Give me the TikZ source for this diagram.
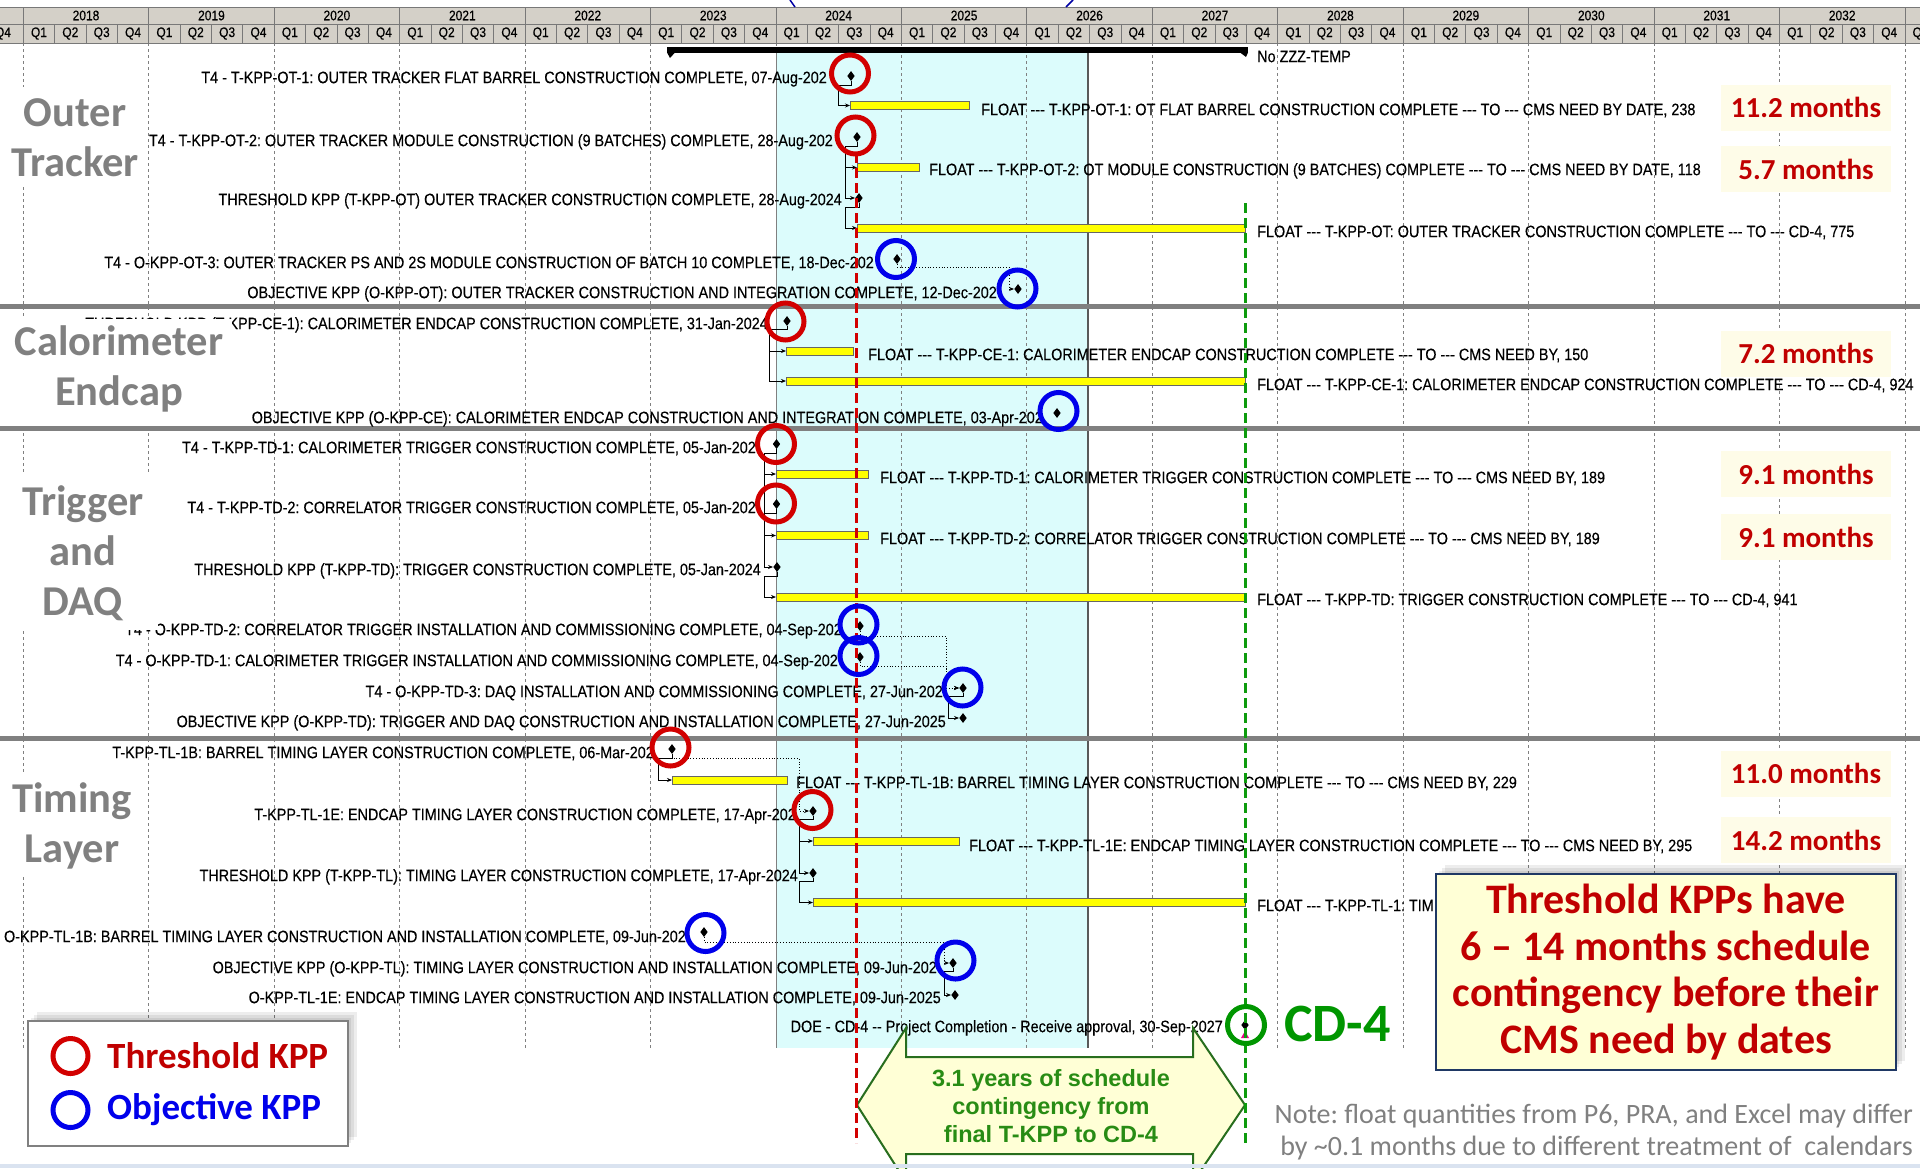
\documentclass[tikz,border=0pt]{standalone}
\usepackage{fontspec}
\usepackage{graphicx}
\newfontfamily\gfont{Liberation Sans}
\newfontfamily\rowfont{Liberation Sans}[FakeBold=0.3]
\newfontfamily\cfont{Carlito}
\usetikzlibrary{shapes.geometric,arrows.meta,calc}

% hyphen runs kept as separate hyphens
\newcommand\tdash{-\kern0pt-\kern0pt-}
\newcommand\wdash{-\kern0pt-}
% schedule labels are set slightly tall
\newcommand\R[1]{\scalebox{1}[1.15]{#1}}

\definecolor{hdr}{RGB}{212,208,200}
\definecolor{hdrline}{RGB}{120,120,120}
\definecolor{cyanbg}{RGB}{220,252,252}
\definecolor{barfill}{RGB}{255,255,0}
\definecolor{kred}{RGB}{210,0,0}
\definecolor{kblue}{RGB}{0,0,235}
\definecolor{kgreen}{RGB}{0,150,0}
\definecolor{mred}{RGB}{192,0,0}
\definecolor{mbg}{RGB}{254,252,232}
\definecolor{secgray}{RGB}{128,128,128}
\definecolor{callbg}{RGB}{255,255,214}
\definecolor{callborder}{RGB}{31,56,100}
\definecolor{arrowline}{RGB}{40,110,30}
\definecolor{arrowtext}{RGB}{40,140,20}
\definecolor{slideedge}{RGB}{218,227,240}

\tikzset{
  hdrtxt/.style={font=\rowfont\fontsize{12}{12}\selectfont, inner sep=0pt},
  row/.style={font=\rowfont\fontsize{14.4}{14.4}\selectfont, inner sep=0pt, text height=11.9pt, text depth=0pt, text=black, yshift=-1.2pt},
  lrow/.style={row, anchor=east},
  frow/.style={row, anchor=west},
  bar/.style={rectangle, fill=barfill, draw=gray!80!black, line width=1pt, minimum height=8pt, inner sep=0pt, anchor=west},
  ms/.style={diamond, fill=black, inner sep=0pt, minimum width=7.5pt, minimum height=10pt},
  ring/.style={circle, draw, line width=5pt, minimum size=37pt, inner sep=0pt},
  tring/.style={ring, draw=kred},
  oring/.style={ring, draw=kblue},
  rel/.style={draw=black, line width=0.8pt, -{Stealth[length=5pt,width=4pt]}},
  drel/.style={rel, dotted},
  mbox/.style={fill=mbg, minimum width=170pt, minimum height=46pt, inner sep=0pt,
    font=\cfont\bfseries\fontsize{29}{29}\selectfont, text=mred},
  sec/.style={font=\cfont\bfseries\fontsize{42.5}{50}\selectfont, text=secgray, align=center, inner sep=0pt},
  gridln/.style={draw=gray, line width=0.8pt, dash pattern=on 3pt off 3pt},
  shade/.style={fill=black, opacity=0.07},
}

\begin{document}
\frenchspacing
\begin{tikzpicture}[x=1pt,y=-1pt]
\useasboundingbox (0,0) rectangle (1920,1168);
\fill[white] (0,0) rectangle (1920,1168);

% highlighted period
\fill[cyanbg] (776,47) rectangle (1088,1047.5);
\draw[gray, line width=0.8pt] (776,47) -- (776,1047.5);
\draw[gray!70!black, line width=1.2pt] (1088,47) -- (1088,1047.5);

% yearly grid
\foreach \i in {0,...,15}{
  \pgfmathsetmacro\xx{23.3+125.44*\i}
  \draw[gridln] (\xx,43) -- (\xx,1047.5);
}

% time scale header
\fill[hdr] (0,7) rectangle (1920,43);
\draw[hdrline, line width=0.8pt] (0,7) -- (1920,7) (0,24) -- (1920,24) (0,43) -- (1920,43);
\foreach \i in {0,...,15}{
  \pgfmathsetmacro\xx{23.3+125.44*\i}
  \draw[hdrline, line width=0.8pt] (\xx,7) -- (\xx,43);
}
\foreach \k in {-1,...,60}{
  \pgfmathsetmacro\xx{23.3+31.36*\k}
  \draw[hdrline, line width=0.8pt] (\xx,24) -- (\xx,43);
}
\foreach \i in {0,...,14}{
  \pgfmathsetmacro\xx{23.3+125.44*\i+62.72}
  \pgfmathtruncatemacro\yr{2018+\i}
  \node[hdrtxt] (yr\i) at (\xx,15.5) {\R{\yr}};
}
\node[hdrtxt] (qqa) at (3,33.5) {\R{Q4}};
\foreach \k in {0,...,60}{
  \pgfmathsetmacro\xx{23.3+31.36*\k+15.68}
  \pgfmathtruncatemacro\q{mod(\k,4)+1}
  \node[hdrtxt] (qq\k) at (\xx,33.5) {\R{Q\q}};
}

% arrow ends reaching in from above
\draw[kblue!70!black, line width=1.5pt] (790,0) -- (795,7);
\draw[kblue!70!black, line width=1.5pt] (1073,0) -- (1066,7);

% summary bar
\fill[black] (667,47) rectangle (1248,52.5);
\fill[black] (667,52.5) -- (675,52.5) -- (670,58) -- cycle;
\fill[black] (1240,52.5) -- (1248,52.5) -- (1246,57) -- cycle;
\node[row, anchor=west] (zzz) at (1257,55) {\R{No ZZZ-TEMP}};

% section separators
\foreach \yy in {306,428,738}
  \draw[secgray, line width=5pt] (0,\yy) -- (1920,\yy);

% ---------------- Outer Tracker ----------------
\node[ms] (m1) at (851,76) {};
\node[lrow] (t1) at (827,76) {\R{T4 - T-KPP-OT-1: OUTER TRACKER FLAT BARREL CONSTRUCTION COMPLETE, 07-Aug-202}};
\node[bar, minimum width=119pt] (b1) at (850,105.5) {};
\node[frow] (f1) at (981,108) {\R{FLOAT \tdash{} T-KPP-OT-1: OT FLAT BARREL CONSTRUCTION COMPLETE \tdash{} TO \tdash{} CMS NEED BY DATE, 238}};

\node[ms] (m2) at (857,137) {};
\node[lrow] (t2) at (833,139) {\R{T4 - T-KPP-OT-2: OUTER TRACKER MODULE CONSTRUCTION (9 BATCHES) COMPLETE, 28-Aug-202}};
\node[bar, minimum width=61.5pt] (b2) at (857,167.5) {};
\node[frow] (f2) at (929,168) {\R{FLOAT \tdash{} T-KPP-OT-2: OT MODULE CONSTRUCTION (9 BATCHES) COMPLETE \tdash{} TO \tdash{} CMS NEED BY DATE, 118}};

\node[ms] (m3) at (859,198) {};
\node[lrow] (t3) at (842,198) {\R{THRESHOLD KPP (T-KPP-OT) OUTER TRACKER CONSTRUCTION COMPLETE, 28-Aug-2024}};
\node[bar, minimum width=388pt] (b3) at (857,228) {};
\node[frow] (f3) at (1257,230) {\R{FLOAT \tdash{} T-KPP-OT: OUTER TRACKER CONSTRUCTION COMPLETE \tdash{} TO \tdash{} CD-4, 775}};

\node[ms] (m4) at (897,259) {};
\node[lrow] (t4) at (874,261) {\R{T4 - O-KPP-OT-3: OUTER TRACKER PS AND 2S MODULE CONSTRUCTION OF BATCH 10 COMPLETE, 18-Dec-202}};
\node[ms] (m5) at (1018,289) {};
\node[lrow] (t5) at (997,291) {\R{OBJECTIVE KPP (O-KPP-OT): OUTER TRACKER CONSTRUCTION AND INTEGRATION COMPLETE, 12-Dec-202}};

\draw[rel] (m1.south) -- ++(0,4) -- ++(-13,0) |- (b1.west);
\draw[rel] (m2.south) -- ++(0,4) -- ++(-12,0) |- (b2.west);
\draw[rel] (m2.south) -- ++(0,4) -- ++(-12,0) |- (m3.west);
\draw[rel] (m3.south) -- ++(0,4) -- ++(-14,0) |- (b3.west);
\draw[drel] (m4.south) -- ++(0,3) -- ++(112,0) |- (m5.west);

% ---------------- Calorimeter Endcap ----------------
\node[ms] (m6) at (787,321) {};
\node[lrow] (t6) at (768,322) {\R{THRESHOLD KPP (T-KPP-CE-1): CALORIMETER ENDCAP CONSTRUCTION COMPLETE, 31-Jan-2024}};
\node[bar, minimum width=67pt] (b4) at (786,351) {};
\node[frow] (f4) at (868,353) {\R{FLOAT \tdash{} T-KPP-CE-1: CALORIMETER ENDCAP CONSTRUCTION COMPLETE \tdash{} TO \tdash{} CMS NEED BY, 150}};
\node[bar, minimum width=459pt] (b5) at (786,381) {};
\node[frow] (f5) at (1257,383) {\R{FLOAT \tdash{} T-KPP-CE-1: CALORIMETER ENDCAP CONSTRUCTION COMPLETE \tdash{} TO \tdash{} CD-4, 924}};
\node[ms] (m7) at (1057,413) {};
\node[lrow] (t7) at (1043,416) {\R{OBJECTIVE KPP (O-KPP-CE): CALORIMETER ENDCAP CONSTRUCTION AND INTEGRATION COMPLETE, 03-Apr-202}};

\draw[rel] (m6.south) -- ++(0,3) -- ++(-18,0) |- (b4.west);
\draw[rel] (m6.south) -- ++(0,3) -- ++(-18,0) |- (b5.west);

% ---------------- Trigger and DAQ ----------------
\node[ms] (m8) at (776.5,444) {};
\node[lrow] (t8) at (756,446) {\R{T4 - T-KPP-TD-1: CALORIMETER TRIGGER CONSTRUCTION COMPLETE, 05-Jan-202}};
\node[bar, minimum width=92pt] (b6) at (776,474) {};
\node[frow] (f6) at (880,476) {\R{FLOAT \tdash{} T-KPP-TD-1: CALORIMETER TRIGGER CONSTRUCTION COMPLETE \tdash{} TO \tdash{} CMS NEED BY, 189}};
\node[ms] (m9) at (776.5,504) {};
\node[lrow] (t9) at (756,506) {\R{T4 - T-KPP-TD-2: CORRELATOR TRIGGER CONSTRUCTION COMPLETE, 05-Jan-202}};
\node[bar, minimum width=92pt] (b7) at (776,535.5) {};
\node[frow] (f7) at (880,537) {\R{FLOAT \tdash{} T-KPP-TD-2: CORRELATOR TRIGGER CONSTRUCTION COMPLETE \tdash{} TO \tdash{} CMS NEED BY, 189}};
\node[ms] (m10) at (777,567) {};
\node[lrow] (t10) at (761,568) {\R{THRESHOLD KPP (T-KPP-TD): TRIGGER CONSTRUCTION COMPLETE, 05-Jan-2024}};
\node[bar, minimum width=469pt] (b8) at (776,597) {};
\node[frow] (f8) at (1257,598) {\R{FLOAT \tdash{} T-KPP-TD: TRIGGER CONSTRUCTION COMPLETE \tdash{} TO \tdash{} CD-4, 941}};
\node[ms] (m11) at (860,626) {};
\node[lrow] (t11) at (842,628) {\R{T4 - O-KPP-TD-2: CORRELATOR TRIGGER INSTALLATION AND COMMISSIONING COMPLETE, 04-Sep-202}};
\node[ms] (m12) at (860,657) {};
\node[lrow] (t12) at (838,659) {\R{T4 - O-KPP-TD-1: CALORIMETER TRIGGER INSTALLATION AND COMMISSIONING COMPLETE, 04-Sep-202}};
\node[ms] (m13) at (963,688) {};
\node[lrow] (t13) at (943,690) {\R{T4 - O-KPP-TD-3: DAQ INSTALLATION AND COMMISSIONING COMPLETE, 27-Jun-202}};
\node[ms] (m14) at (963,718) {};
\node[lrow] (t14) at (946,720) {\R{OBJECTIVE KPP (O-KPP-TD): TRIGGER AND DAQ CONSTRUCTION AND INSTALLATION COMPLETE, 27-Jun-2025}};

\draw[rel] (m8.south) -- ++(0,4) -- ++(-12,0) |- (b6.west);
\draw[rel] (m8.south) -- ++(0,4) -- ++(-12,0) |- (m10.west);
\draw[rel] (m9.south) -- ++(0,4) -- ++(-12,0) |- (b7.west);
\draw[rel] (m10.south) -- ++(0,4) -- ++(-13,0) |- (b8.west);
\draw[drel] (m11.south) -- ++(0,5) -- ++(86,0) |- (m13.west);
\draw[drel] (m12.south) -- ++(0,4) -- ++(86,0) |- (m13.west);
\draw[rel] (m13.south) -- ++(0,3) -- ++(-15,0) |- (m14.west);

% ---------------- Timing Layer ----------------
\node[ms] (m15) at (672,749) {};
\node[lrow] (t15) at (654,751) {\R{T-KPP-TL-1B: BARREL TIMING LAYER CONSTRUCTION COMPLETE, 06-Mar-202}};
\node[bar, minimum width=115pt] (b9) at (672,780) {};
\node[frow] (f9) at (796,781) {\R{FLOAT \tdash{} T-KPP-TL-1B: BARREL TIMING LAYER CONSTRUCTION COMPLETE \tdash{} TO \tdash{} CMS NEED BY, 229}};
\node[ms] (m16) at (813,811) {};
\node[lrow] (t16) at (796,813) {\R{T-KPP-TL-1E: ENDCAP TIMING LAYER CONSTRUCTION COMPLETE, 17-Apr-202}};
\node[bar, minimum width=146pt] (b10) at (813,841) {};
\node[frow] (f10) at (969,844) {\R{FLOAT \tdash{} T-KPP-TL-1E: ENDCAP TIMING LAYER CONSTRUCTION COMPLETE \tdash{} TO \tdash{} CMS NEED BY, 295}};
\node[ms] (m17) at (813,873) {};
\node[lrow] (t17) at (798,874) {\R{THRESHOLD KPP (T-KPP-TL): TIMING LAYER CONSTRUCTION COMPLETE, 17-Apr-2024}};
\node[bar, minimum width=432pt] (b11) at (813,902.5) {};
\begin{scope}
  \clip (1250,885) rectangle (1436,925);
  \node[frow] (f11) at (1257,904) {\R{FLOAT \tdash{} T-KPP-TL-1: TIMING}};
\end{scope}
\node[ms] (m18) at (704,932) {};
\node[lrow] (t18) at (686,935) {\R{O-KPP-TL-1B: BARREL TIMING LAYER CONSTRUCTION AND INSTALLATION COMPLETE, 09-Jun-202}};
\node[ms] (m19) at (953,963) {};
\node[lrow] (t19) at (937,966) {\R{OBJECTIVE KPP (O-KPP-TL): TIMING LAYER CONSTRUCTION AND INSTALLATION COMPLETE, 09-Jun-202}};
\node[ms] (m20) at (955,995) {};
\node[lrow] (t20) at (941,996) {\R{O-KPP-TL-1E: ENDCAP TIMING LAYER CONSTRUCTION AND INSTALLATION COMPLETE, 09-Jun-2025}};
\node[ms] (m21) at (1245,1025) {};
\node[lrow] (t21) at (1223,1025) {\R{DOE - CD-4 \wdash{} Project Completion - Receive approval, 30-Sep-2027}};
\fill[magenta] (1241,1038) -- (1249,1038) -- (1245,1031) -- cycle;

\draw[rel] (m15.south) -- ++(0,4) -- ++(-14,0) |- (b9.west);
\draw[drel] (m15.south) -- ++(0,4) -- ++(127,0) |- (m16.west);
\draw[rel] (m16.south) -- ++(0,3) -- ++(-14,0) |- (b10.west);
\draw[rel] (m16.south) -- ++(0,3) -- ++(-14,0) |- (m17.west);
\draw[rel] (m17.south) -- ++(0,3) -- ++(-14,0) |- (b11.west);
\draw[drel] (m18.south) -- ++(0,5) -- ++(240,0) |- (m19.west);
\draw[rel] (m19.south) -- ++(0,3) -- ++(-9,0) |- (m20.west);

% ---------------- section titles ----------------
\fill[white] (0,87) rectangle (148,187);
\node[sec] (s1) at (75,138) {Outer\\Tracker};
\fill[white] (0,319) rectangle (232,424);
\node[sec] (s2) at (119,369) {Calorimeter\\Endcap};
\fill[white] (0,472) rectangle (158,630);
\node[sec] (s3) at (83,553.5) {Trigger\\and\\DAQ};
\fill[white] (0,773) rectangle (140,877);
\node[sec] (s4) at (72,826) {Timing\\Layer};

% ---------------- contingency arrow ----------------
\draw[line width=2pt, draw=arrowline, fill=callbg] (857,1105) -- (906,1028) -- (906,1057) -- (1193,1057) -- (1193,1028) -- (1245,1105) -- (1193,1182) -- (1193,1154) -- (906,1154) -- (906,1182) -- cycle;
\node[font=\gfont\bfseries\fontsize{23.5}{28}\selectfont, text=arrowtext, align=center, inner sep=0pt] (arr) at (1051,1106) {3.1 years of schedule\\contingency from\\final T-KPP to CD-4};

% ---------------- reference dates ----------------
\draw[kred, line width=3pt, dash pattern=on 10pt off 5pt] (856,153) -- (856,1143);
\draw[kgreen!95!white, line width=3pt, dash pattern=on 10pt off 5pt] (1245,203) -- (1245,1143);

% ---------------- KPP rings ----------------
\node[tring] (r1) at (850,73.5) {};
\node[tring] (r2) at (855.5,135.5) {};
\node[oring] (r3) at (896,259) {};
\node[oring] (r4) at (1017.5,288.5) {};
\node[tring] (r5) at (785.5,321.5) {};
\node[oring] (r6) at (1058.5,411) {};
\node[tring] (r7) at (776,444) {};
\node[tring] (r8) at (776,503.5) {};
\node[oring] (r9) at (858.5,624.5) {};
\node[oring] (r10) at (858.5,656) {};
\node[oring] (r11) at (962.5,687.5) {};
\node[tring] (r12) at (670.5,747.5) {};
\node[tring] (r13) at (812.5,810) {};
\node[oring] (r14) at (705.5,933) {};
\node[oring] (r15) at (955.5,960.5) {};
\node[ring, draw=kgreen] (r16) at (1246,1025) {};
\node[font=\cfont\bfseries\fontsize{54}{54}\selectfont, text=kgreen, anchor=west, inner sep=0pt] (cd4) at (1284,1024) {CD-4};

% ---------------- float in months ----------------
\node[mbox] (mo1) at (1806,107.5) {11.2 months};
\node[mbox] (mo2) at (1806,169) {5.7 months};
\node[mbox] (mo3) at (1806,353.5) {7.2 months};
\node[mbox] (mo4) at (1806,474) {9.1 months};
\node[mbox] (mo5) at (1806,537) {9.1 months};
\node[mbox] (mo6) at (1806,773.5) {11.0 months};
\node[mbox] (mo7) at (1806,840) {14.2 months};

% ---------------- summary callout ----------------
\foreach \d in {3,6,9}
  \fill[shade] (1436+\d,874-\d) rectangle (1896+\d,1070-\d);
\node[draw=callborder, line width=2.5pt, fill=callbg, minimum width=460pt, minimum height=196pt, inner sep=0pt,
  align=center, font=\cfont\bfseries\fontsize{42}{46.5}\selectfont, text=mred] (call) at (1666,972)
  {Threshold KPPs have\\6 – 14 months schedule\\contingency before their\\CMS need by dates};

% ---------------- legend ----------------
\foreach \d in {3,6,9}
  \fill[shade] (28+\d,1021-\d) rectangle (348+\d,1146-\d);
\node[draw=gray, line width=2pt, fill=white, minimum width=320pt, minimum height=125pt, inner sep=0pt] (leg) at (188,1083.5) {};
\node[ring, draw=kred, minimum size=35pt] (lr1) at (70.5,1056) {};
\node[ring, draw=kblue, minimum size=35pt] (lr2) at (70.5,1110) {};
\node[font=\cfont\bfseries\fontsize{37}{37}\selectfont, text=mred, anchor=west, inner sep=0pt] (lt1) at (107,1056) {Threshold KPP};
\node[font=\cfont\bfseries\fontsize{37}{37}\selectfont, text=kblue, anchor=west, inner sep=0pt] (lt2) at (107,1110) {Objective KPP};

% ---------------- note ----------------
\node[font=\cfont\fontsize{28}{32}\selectfont, text=secgray, align=right, anchor=east, inner sep=0pt] (note) at (1913,1132.5)
  {Note: float quantities from P6, PRA, and Excel may differ\\by \textasciitilde 0.1 months due to different treatment of\ \ calendars};

\fill[slideedge] (0,1164) rectangle (1920,1168);
\end{tikzpicture}
\end{document}
